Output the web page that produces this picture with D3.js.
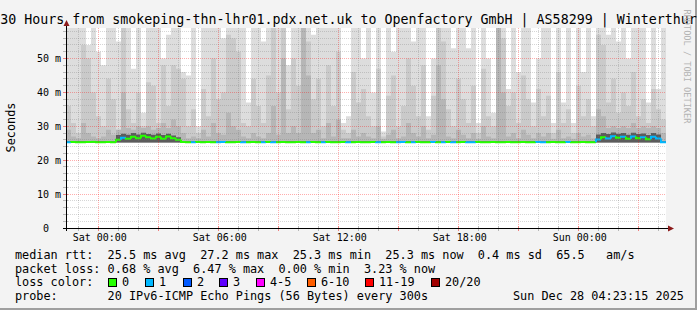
<!DOCTYPE html>
<html>
<head>
<meta charset="utf-8">
<script src="https://cdn.jsdelivr.net/npm/d3@7"></script>
<style>
html,body{margin:0;padding:0;background:#f3f3f3;}
svg{display:block;}
text{font-family:"DejaVu Sans Mono",monospace;white-space:pre;}
</style>
</head>
<body>
<div id="chart"></div>
<script>
//chart texts
const title = "30 Hours from smokeping-thn-lhr01.pdx.net.uk to Openfactory GmbH | AS58299 | Winterthur";
const rttLegend = "median rtt:  25.5 ms avg  27.2 ms max  25.3 ms min  25.3 ms now  0.4 ms sd  65.5   am/s";
const lossLegend = "packet loss: 0.68 % avg  6.47 % max  0.00 % min  3.23 % now";
const probeLegend = "probe:       20 IPv6-ICMP Echo Pings (56 Bytes) every 300s";

//loss color legend
const lossLabels = ["0","1","2","3","4-5","6-10","11-19","20/20"];
const lossColors = ["#26ff00","#00b8ff","#0059ff","#5e00ff","#ff00ff","#ff5e00","#ff0000","#a10000"];

//y ticks in ms
const yTicks = [0,10,20,30,40,50];

//time range: 30 hours ending at the graph time, 15 minute bins
const endTime = Date.UTC(2025,11,28,4,23,15);
const startTime = endTime - 30*3600*1000;
const step = 15*60*1000;

//lowest ping, bottom of the smoke
const smokeFloor = 25.2;

//median rtt per bin (ms)
const medianRtt = [
 25.3,25.4,25.3,25.3,25.4,25.4,25.3,25.3,25.4,25.3,
 26.0,26.6,26.3,26.9,26.5,27.2,26.8,26.4,26.9,26.3,
 27.0,26.5,26.0,25.4,25.3,25.3,25.4,25.3,25.4,25.3,
 25.3,25.4,25.3,25.3,25.4,25.3,25.3,25.4,25.3,25.3,
 25.4,25.3,25.3,25.4,25.3,25.3,25.4,25.3,25.3,25.4,
 25.3,25.3,25.4,25.3,25.3,25.4,25.3,25.3,25.4,25.3,
 25.3,25.4,25.3,25.3,25.4,25.3,25.3,25.4,25.3,25.3,
 25.4,25.3,25.3,25.4,25.3,25.3,25.4,25.3,25.3,25.4,
 25.3,25.3,25.4,25.3,25.3,25.4,25.3,25.3,25.4,25.3,
 25.3,25.4,25.3,25.3,25.4,25.3,25.3,25.4,25.3,25.3,
 25.4,25.3,25.3,25.4,25.3,25.3,26.1,26.8,26.4,27.1,
 26.6,26.9,26.3,27.0,26.5,26.8,26.2,26.9,26.4,25.3
];

//lost pings (of 20) per bin
const lossCount = [
 1,0,0,0,0,0,0,0,0,0,
 0,1,0,0,0,0,0,0,0,0,
 0,0,0,0,0,1,0,0,0,0,
 1,1,0,0,0,1,0,0,0,1,
 0,1,0,0,0,0,0,0,1,0,
 0,1,0,0,0,0,1,0,0,0,
 0,0,1,0,0,0,1,1,0,1,
 0,0,0,1,0,1,0,1,0,0,
 1,1,0,0,0,0,0,0,0,0,
 0,0,0,0,1,1,0,0,0,0,
 1,0,0,0,0,0,1,0,1,1,
 0,1,0,1,0,1,0,1,1,1
];

//smoke: top of the lightest band (highest pings)
const smokeMax = [
 59,59,59,59,54,59,52,48,59,59,
 55,59,59,47,59,34,59,59,59,50,
 57,59,59,46,45,59,30,59,59,59,
 59,56,59,59,59,59,37,59,59,55,
 59,59,59,59,48,59,59,59,59,57,
 59,59,59,59,59,31,33,59,59,50,
 59,40,59,28.5,59,52,59,59,59,55,
 59,59,33,50,59,59,59,53,59,59,
 53,59,31,59,50,34,59,59,41,59,
 46,59,59,37,50,59,59,31,59,37,
 59,31,59,46,59,33,59,59,57,59,
 55,59,50,59,59,59,37,59,41,59
];

//smoke: top of the middle band
const smokeMid = [
 36,31,28,54,50,40,33,30,44,38,
 29,59,35,31,40,30,43,42,31,48,
 36,48,47,44,30,35,28,41,33,50,
 38,40,57,56,52,31,30,44,36,31,
 45,59,40,59,35,50,42,59,55,38,
 44,30,48,36,52,29,28,46,37,41,
 33,30,47,27,39,45,30,36,50,42,
 33,48,29,39,59,55,35,30,44,38,
 31,42,28,47,33,30,59,56,36,40,
 31,45,38,30,41,33,39,28,46,31,
 35,28,42,33,38,30,57,54,37,44,
 34,40,36,46,33,38,31,41,35,32
];

//smoke: top of the darker band
const smokeDark = [
 29,27,26.5,31,28,27,26.5,27,29,27.5,
 29,40,29.5,29,30,29.5,30,29,29.5,31,
 29.5,32,30,28,26.5,27,26.5,29,27,31,
 28,27.5,34,30,29,27,26.5,28,27,26.5,
 28,36,27.5,50,28,30,28,59,45,28,
 29,26.5,31,27,32,26.5,26.5,29,27,28,
 27,26.5,30,26.3,27.5,29,26.5,27,31,28,
 27,30,26.5,27.5,48,38,27,26.5,29,27.5,
 26.5,28,26.3,30,27,26.5,59,40,27,28,
 26.5,29,27.5,26.5,28,27,28,26.3,29,26.5,
 27,26.3,28,27,27.5,26.5,35,33,29.5,30,
 29.5,30,29.5,31,29.5,30,29.5,30,29.5,28
];

//smoke: top of the darkest band around the median
const smokeCore = [
 25.6,25.6,25.6,25.6,25.6,25.6,25.6,25.6,25.6,25.6,
 27.4,27.8,27.5,28.0,27.6,28.1,27.7,27.5,27.9,27.4,
 27.8,27.3,26.8,25.6,25.6,25.6,25.6,25.6,25.6,25.6,
 25.6,25.6,25.6,25.6,25.6,25.6,25.6,25.6,25.6,25.6,
 25.6,25.6,25.6,25.6,25.6,25.6,25.6,25.6,25.6,25.6,
 25.6,25.6,25.6,25.6,25.6,25.6,25.6,25.6,25.6,25.6,
 25.6,25.6,25.6,25.6,25.6,25.6,25.6,25.6,25.6,25.6,
 25.6,25.6,25.6,25.6,25.6,25.6,25.6,25.6,25.6,25.6,
 25.6,25.6,25.6,25.6,25.6,25.6,25.6,25.6,25.6,25.6,
 25.6,25.6,25.6,25.6,25.6,25.6,25.6,25.6,25.6,25.6,
 25.6,25.6,25.6,25.6,25.6,25.6,27.6,28.0,27.7,28.2,
 27.8,28.0,27.5,28.1,27.7,27.9,27.4,28.0,27.6,25.6
];

const w = 697;   //width of svg
const h = 310;   //height of svg
const plotLeft = 66, plotTop = 28, plotW = 600, plotH = 200;
const plotBottom = plotTop + plotH;

const xScale = d3.scaleUtc()
    .domain([new Date(startTime), new Date(endTime)])
    .range([plotLeft, plotLeft + plotW]);

const yScale = d3.scaleLinear()
    .domain([0, 59])
    .range([plotBottom, plotTop]);

//loss count -> legend index
function lossIndex(n){
    if(n <= 3) return n;
    if(n <= 5) return 4;
    if(n <= 10) return 5;
    if(n < 20) return 6;
    return 7;
}
//crisp pixel
function px(v){ return Math.floor(v) + 0.5; }

const svg = d3.select("#chart")
    .append("svg")
    .attr("width", w)
    .attr("height", h);

//background and shade
svg.append("rect").attr("width", w).attr("height", h).attr("fill", "#f3f3f3");
svg.append("rect").attr("x", w-2).attr("y", 0).attr("width", 2).attr("height", h).attr("fill", "#9f9f9f");
svg.append("rect").attr("x", 0).attr("y", h-2).attr("width", w).attr("height", 2).attr("fill", "#9f9f9f");

//canvas
svg.append("rect")
    .attr("x", plotLeft).attr("y", plotTop)
    .attr("width", plotW).attr("height", plotH)
    .attr("fill", "#ffffff");

svg.append("clipPath").attr("id", "clip")
    .append("rect").attr("x", plotLeft).attr("y", plotTop).attr("width", plotW).attr("height", plotH);

const plot = svg.append("g").attr("clip-path", "url(#clip)");

//bins with one extra point at the end so the last step is drawn
const pts = medianRtt.map((d,i)=>({t: new Date(startTime + i*step), i: i}));
pts.push({t: new Date(endTime), i: medianRtt.length - 1});

function smoke(arr, color){
    const area = d3.area()
        .curve(d3.curveStepAfter)
        .x(d=>xScale(d.t))
        .y0(yScale(smokeFloor))
        .y1(d=>yScale(arr[d.i]));
    plot.append("path").datum(pts).attr("d", area).attr("fill", color);
}
smoke(smokeMax, "#dddddd");
smoke(smokeMid, "#cacaca");
smoke(smokeDark, "#b6b6b6");
smoke(smokeCore, "#5c5c5c");

//grid
const grid = svg.append("g");
const minorY = d3.range(2, 59, 2).filter(v=>v % 10 !== 0);
const majorY = yTicks.filter(v=>v > 0);
grid.selectAll(".gy").data(minorY).enter().append("line")
    .attr("x1", plotLeft).attr("x2", plotLeft + plotW)
    .attr("y1", d=>px(yScale(d))).attr("y2", d=>px(yScale(d)))
    .attr("stroke", "rgba(120,120,120,0.3)").attr("stroke-dasharray", "1,1");
const hours = d3.utcHour.range(new Date(startTime), new Date(endTime));
const minorX = hours.filter(d=>d.getUTCHours() % 3 !== 0);
const majorX = hours.filter(d=>d.getUTCHours() % 3 === 0);
grid.selectAll(".gx").data(minorX).enter().append("line")
    .attr("x1", d=>px(xScale(d))).attr("x2", d=>px(xScale(d)))
    .attr("y1", plotTop).attr("y2", plotBottom)
    .attr("stroke", "rgba(120,120,120,0.3)").attr("stroke-dasharray", "1,1");
grid.selectAll(".my").data(majorY).enter().append("line")
    .attr("x1", plotLeft).attr("x2", plotLeft + plotW)
    .attr("y1", d=>px(yScale(d))).attr("y2", d=>px(yScale(d)))
    .attr("stroke", "rgba(255,0,0,0.32)").attr("stroke-dasharray", "1,1");
grid.selectAll(".mx").data(majorX).enter().append("line")
    .attr("x1", d=>px(xScale(d))).attr("x2", d=>px(xScale(d)))
    .attr("y1", plotTop).attr("y2", plotBottom)
    .attr("stroke", "rgba(255,0,0,0.32)").attr("stroke-dasharray", "1,1");

//median line, coloured by loss
const line = d3.line().x(d=>xScale(d[0])).y(d=>yScale(d[1]));
medianRtt.forEach((m,i)=>{
    const t0 = startTime + i*step, t1 = t0 + step;
    const prev = i > 0 ? medianRtt[i-1] : m;
    plot.append("path")
        .attr("d", line([[t0, prev],[t0, m],[t1, m]]))
        .attr("fill", "none")
        .attr("stroke", lossColors[lossIndex(lossCount[i])])
        .attr("stroke-width", 2);
});

//tick marks
svg.selectAll(".tx").data(hours).enter().append("line")
    .attr("x1", d=>px(xScale(d))).attr("x2", d=>px(xScale(d)))
    .attr("y1", plotBottom - 2).attr("y2", plotBottom + 3)
    .attr("stroke", d=>d.getUTCHours() % 3 === 0 ? "#f08080" : "#b8b8b8");
svg.selectAll(".ty").data(d3.range(0, 59, 2)).enter().append("line")
    .attr("x1", plotLeft - 3).attr("x2", plotLeft + 2)
    .attr("y1", d=>px(yScale(d))).attr("y2", d=>px(yScale(d)))
    .attr("stroke", d=>d % 10 === 0 ? "#f08080" : "#b8b8b8");

//axes lines with arrows
svg.append("line").attr("x1", plotLeft - 3).attr("x2", plotLeft + plotW + 4)
    .attr("y1", plotBottom + 0.5).attr("y2", plotBottom + 0.5).attr("stroke", "#000");
svg.append("line").attr("x1", plotLeft + 0.5).attr("x2", plotLeft + 0.5)
    .attr("y1", plotBottom + 3).attr("y2", plotTop - 4).attr("stroke", "#000");
svg.append("path")
    .attr("d", "M" + (plotLeft + plotW + 2) + "," + (plotBottom - 2.5) + "L" + (plotLeft + plotW + 8) + "," + (plotBottom + 0.5) + "L" + (plotLeft + plotW + 2) + "," + (plotBottom + 3.5) + "Z")
    .attr("fill", "#8b1a1a");
svg.append("path")
    .attr("d", "M" + (plotLeft - 2.5) + "," + (plotTop - 2) + "L" + (plotLeft + 0.5) + "," + (plotTop - 8) + "L" + (plotLeft + 3.5) + "," + (plotTop - 2) + "Z")
    .attr("fill", "#8b1a1a");

//x labels
const xAxis = d3.axisBottom(xScale)
    .tickValues(d3.utcHour.every(6).range(new Date(startTime), new Date(endTime)))
    .tickFormat(d3.utcFormat("%a %H:%M"))
    .tickSize(0)
    .tickPadding(6);
const gx = svg.append("g").attr("transform", "translate(1," + plotBottom + ")").call(xAxis);
gx.select(".domain").remove();
gx.selectAll("text").attr("font-family", "DejaVu Sans Mono").attr("font-size", 10).attr("fill", "#000");

//y labels
const yAxis = d3.axisLeft(yScale)
    .tickValues(yTicks)
    .tickFormat(d=>d === 0 ? "0  " : d + " m")
    .tickSize(0)
    .tickPadding(5);
const gy = svg.append("g").attr("transform", "translate(" + plotLeft + ",0)").call(yAxis);
gy.select(".domain").remove();
gy.selectAll("text").attr("font-family", "DejaVu Sans Mono").attr("font-size", 10).attr("fill", "#000");

//y title
svg.append("text")
    .attr("transform", "translate(14.5,127.5) rotate(-90)")
    .attr("text-anchor", "middle")
    .attr("font-size", 11.84)
    .text("Seconds");

//title
svg.append("text")
    .attr("x", w/2).attr("y", 24)
    .attr("text-anchor", "middle")
    .attr("font-size", 13.3)
    .text(title);

//watermark
svg.append("text")
    .attr("transform", "translate(684,9.5) rotate(90)")
    .attr("font-size", 8.6)
    .attr("fill", "#b4b4b4")
    .text("RRDTOOL / TOBI OETIKER");

//legend
const lx = 15, fs = 11.84;
svg.append("text").attr("x", lx).attr("y", 258.8).attr("font-size", fs).text(rttLegend);
svg.append("text").attr("x", lx).attr("y", 272.5).attr("font-size", fs).text(lossLegend);
svg.append("text").attr("x", lx).attr("y", 286.2).attr("font-size", fs).text("loss color:");
svg.append("text").attr("x", lx).attr("y", 300).attr("font-size", fs).text(probeLegend);
svg.append("text").attr("x", 513).attr("y", 300).attr("font-size", fs)
    .text(d3.utcFormat("%a %b %d %H:%M:%S %Y")(new Date(endTime)));

const boxX = [108, 145, 183, 219, 256, 307, 365, 431];
const lg = svg.append("g");
lg.selectAll("rect").data(lossLabels).enter().append("rect")
    .attr("x", (d,i)=>boxX[i] + 0.5).attr("y", 278.5)
    .attr("width", 8).attr("height", 8)
    .attr("fill", (d,i)=>lossColors[i])
    .attr("stroke", "#000");
lg.selectAll("text").data(lossLabels).enter().append("text")
    .attr("x", (d,i)=>boxX[i] + 14).attr("y", 286.2)
    .attr("font-size", fs)
    .text(d=>d);
</script>
</body>
</html>
